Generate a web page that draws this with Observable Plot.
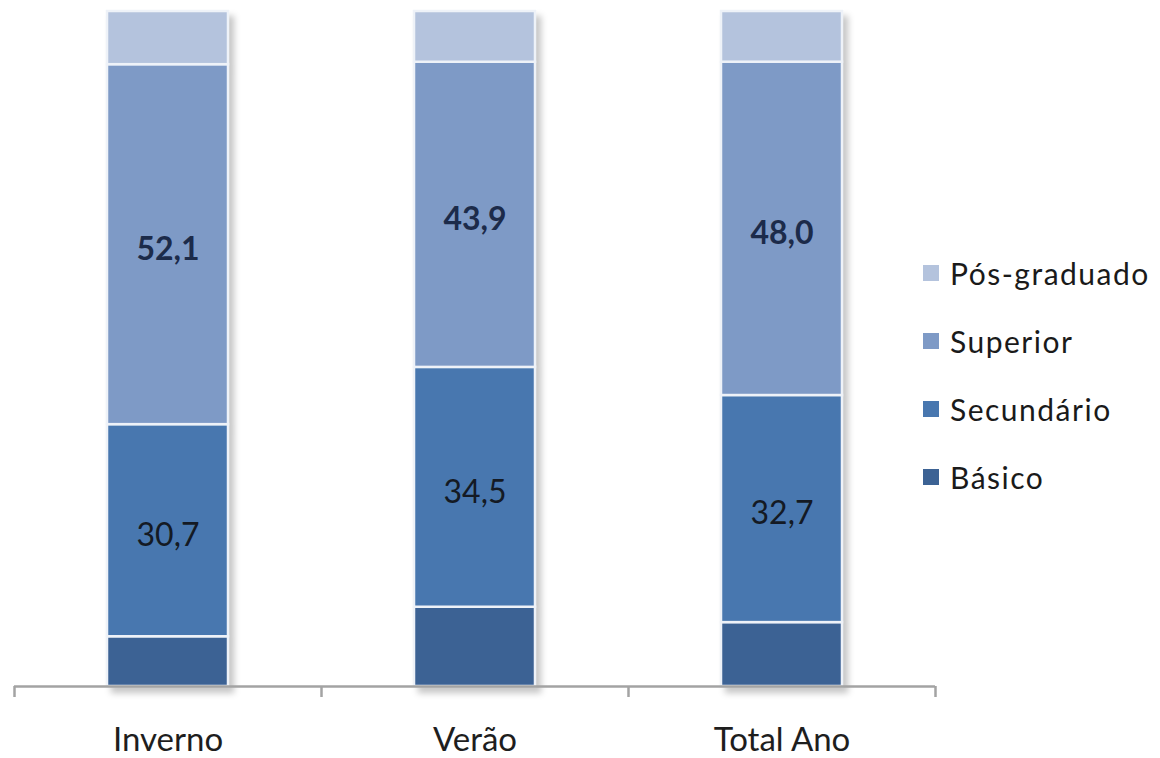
<!DOCTYPE html>
<html>
<head>
<meta charset="utf-8">
<script src="https://cdn.jsdelivr.net/npm/d3@7"></script>
<script src="https://cdn.jsdelivr.net/npm/@observablehq/plot@0.6"></script>
<style>
  body { margin: 0; background: #fff; font-family: Lato, "Open Sans", sans-serif; }
  #chart { position: relative; width: 1160px; height: 758px; }
  #legend { position: absolute; left: 923px; top: 239px; }
  .item { display: flex; align-items: center; height: 68px; }
  .sw { width: 16px; height: 16px; margin-right: 11px; flex: none; }
  .lbl { font-size: 30px; letter-spacing: 1.5px; color: #1a1a1a; white-space: nowrap; }
</style>
</head>
<body>
<div id="chart"></div>
<script>
// Periods on the x axis and education levels stacked from bottom to top
const periods = ["Inverno", "Verão", "Total Ano"];
const levels = ["Básico", "Secundário", "Superior", "Pós-graduado"];
const levelColors = ["#3c6294", "#4877af", "#7e9ac6", "#b4c3dd"];

// Shares (%) per period, one array per level
const basico = [7.2, 11.4, 9.2];
const secundario = [30.7, 34.5, 32.7];
const superior = [52.1, 43.9, 48.0];
const posGraduado = [7.7, 7.3, 7.3];

const seriesValues = [basico, secundario, superior, posGraduado];
const rows = levels.flatMap((level, i) =>
  periods.map((period, j) => ({ period, level, value: seriesValues[i][j] }))
);

const fmt = v => v.toFixed(1).replace(".", ",");

const W = 1160, H = 758;
const mL = 14, mR = 225, mT = 11, mB = 72;
const step = (W - mL - mR) / periods.length;

// 100% stacked columns
const stack = o => Plot.stackY({ offset: "normalize", x: "period", y: "value", z: "level", ...o });

const plot = Plot.plot({
  width: W,
  height: H,
  marginLeft: mL,
  marginRight: mR,
  marginTop: mT,
  marginBottom: mB,
  style: { fontFamily: "Lato, 'Open Sans', sans-serif", background: "#fff" },
  x: { domain: periods, paddingInner: 0.606, paddingOuter: 0.303, label: null },
  y: { domain: [0, 1], axis: null },
  color: { domain: levels, range: levelColors },
  marks: [
    Plot.barY(rows, stack({ fill: "level", stroke: "#eef2f8", strokeWidth: 2.5 })),
    Plot.text(rows, stack({
      text: d => d.level === "Superior" ? fmt(d.value) : null,
      fontSize: 32, fontWeight: "bold", fill: "#1c2b4a", dy: 5
    })),
    Plot.text(rows, stack({
      text: d => d.level === "Secundário" ? fmt(d.value) : null,
      fontSize: 32, fill: "#141a24", dy: 5
    })),
    Plot.ruleY([0], { stroke: "#a3a3a3", strokeWidth: 2.5 }),
    // category boundary ticks below the baseline
    Plot.ruleX(periods, { x: d => d, y1: 0, y2: 0, insetBottom: -11, dx: -step / 2, stroke: "#a3a3a3", strokeWidth: 2.5 }),
    Plot.ruleX(periods.slice(-1), { x: d => d, y1: 0, y2: 0, insetBottom: -11, dx: step / 2, stroke: "#a3a3a3", strokeWidth: 2.5 }),
    Plot.axisX({ tickSize: 0, tickPadding: 41, fontSize: 33, fill: "#1e1e1e", label: null })
  ]
});

const bars = plot.querySelector('g[aria-label="bar"]');
if (bars) bars.style.filter = "drop-shadow(5px 6px 3px rgba(0,0,0,0.22))";

const chart = document.getElementById("chart");
chart.appendChild(plot);

// Legend, top level first
const legend = document.createElement("div");
legend.id = "legend";
levels.slice().reverse().forEach(level => {
  const item = document.createElement("div");
  item.className = "item";
  const sw = document.createElement("span");
  sw.className = "sw";
  sw.style.background = levelColors[levels.indexOf(level)];
  const lbl = document.createElement("span");
  lbl.className = "lbl";
  lbl.textContent = level;
  item.append(sw, lbl);
  legend.appendChild(item);
});
chart.appendChild(legend);
</script>
</body>
</html>
